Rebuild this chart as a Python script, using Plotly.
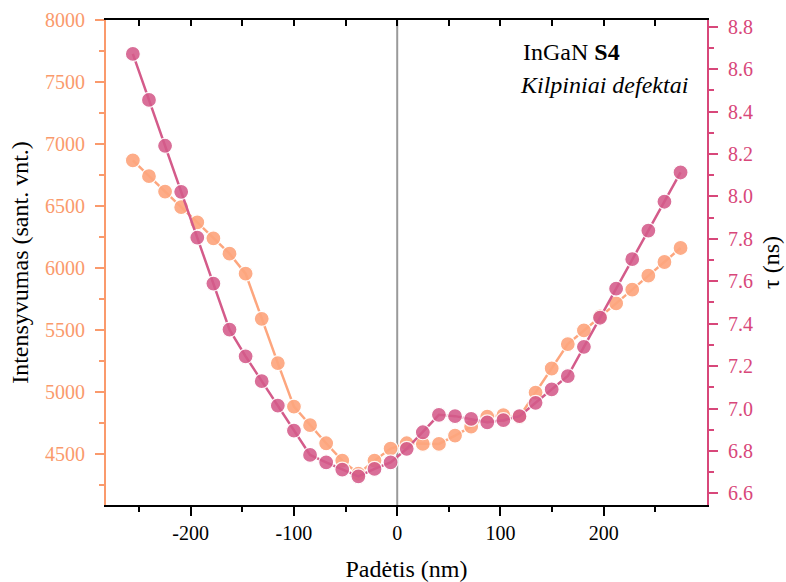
import plotly.graph_objects as go

# Position along the scan (nm)
position_nm = [-256.0, -240.4, -224.8, -209.2, -193.6, -178.0, -162.4, -146.8, -131.2,
               -115.6, -100.0, -84.4, -68.8, -53.2, -37.6, -22.0, -6.4, 9.2, 24.8,
               40.4, 56.0, 71.6, 87.2, 102.8, 118.4, 134.0, 149.6, 165.2, 180.8,
               196.4, 212.0, 227.6, 243.2, 258.8, 274.4]

# PL intensity (arb. units), left axis
intensity = [6867, 6740, 6616, 6490, 6368, 6239, 6115, 5954, 5590, 5233, 4882, 4732,
             4586, 4446, 4340, 4446, 4543, 4586, 4581, 4581, 4648, 4720, 4801, 4812,
             4800, 4995, 5189, 5386, 5496, 5609, 5714, 5825, 5938, 6048, 6161]

# Carrier lifetime tau (ns), right axis
tau_ns = [8.672, 8.455, 8.239, 8.022, 7.806, 7.589, 7.372, 7.246, 7.129, 7.014, 6.896,
          6.781, 6.746, 6.712, 6.680, 6.715, 6.746, 6.810, 6.888, 6.970, 6.964, 6.951,
          6.935, 6.945, 6.964, 7.027, 7.090, 7.153, 7.291, 7.428, 7.565, 7.704, 7.839,
          7.975, 8.113]

# Axis ticks
x_ticks = [-200, -100, 0, 100, 200]
x_ticklabels = ["-200", "-100", "0", "100", "200"]
x_minor = [-250, -150, -50, 50, 150, 250]
int_ticks = [4500, 5000, 5500, 6000, 6500, 7000, 7500, 8000]
int_minor = [4250, 4750, 5250, 5750, 6250, 6750, 7250, 7750]
tau_ticks = [6.6, 6.8, 7.0, 7.2, 7.4, 7.6, 7.8, 8.0, 8.2, 8.4, 8.6, 8.8]
tau_minor = [6.7, 6.9, 7.1, 7.3, 7.5, 7.7, 7.9, 8.1, 8.3, 8.5, 8.7]

ORANGE_AX = "#FA9A6C"
ORANGE_MK = "#FDA67E"
PINK_AX = "#D8477A"
PINK_MK = "#D45B8A"
FONT = "Liberation Serif"

fig = go.Figure()

fig.add_trace(go.Scatter(
    x=position_nm, y=intensity, mode="lines+markers", yaxis="y",
    line=dict(color=ORANGE_MK, width=2.5),
    marker=dict(size=15, color=ORANGE_MK, opacity=0.92,
                line=dict(color="white", width=1.2)),
    showlegend=False,
))

fig.add_trace(go.Scatter(
    x=position_nm, y=tau_ns, mode="lines+markers", yaxis="y2",
    line=dict(color=PINK_MK, width=2.5),
    marker=dict(size=15, color=PINK_MK, opacity=0.88,
                line=dict(color="white", width=1.2)),
    showlegend=False,
))

# empty trace so the top mirror axis is rendered
fig.add_trace(go.Scatter(x=[], y=[], xaxis="x2", yaxis="y", showlegend=False))

x_range = [-282, 300]

fig.update_layout(
    width=786, height=582,
    margin=dict(l=106, r=79, t=20, b=77),
    plot_bgcolor="white", paper_bgcolor="white",
    font=dict(family=FONT, size=20, color="black"),
    xaxis=dict(
        range=x_range, showgrid=False, zeroline=False, automargin=False,
        showline=True, linecolor="black", linewidth=1.5,
        ticks="outside", ticklen=9, tickwidth=1.5, tickcolor="black",
        tickvals=x_ticks, ticktext=x_ticklabels,
        minor=dict(tickvals=x_minor, ticks="outside",
                   ticklen=5, tickwidth=1.5, tickcolor="black"),
        tickfont=dict(family=FONT, size=20, color="black"),
        title=dict(text="Padėtis (nm)", font=dict(family=FONT, size=24), standoff=18),
    ),
    xaxis2=dict(
        range=x_range, overlaying="x", side="top", showgrid=False, zeroline=False,
        automargin=False, showline=True, linecolor="black", linewidth=1.5,
        ticks="inside", ticklen=6, tickwidth=1.5, tickcolor="black",
        tickvals=x_ticks + x_minor, showticklabels=False,
    ),
    yaxis=dict(
        range=[4088, 8000], showgrid=False, zeroline=False, automargin=False,
        showline=True, linecolor=ORANGE_AX, linewidth=2,
        ticks="outside", ticklen=9, tickwidth=2, tickcolor=ORANGE_AX,
        tickvals=int_ticks,
        minor=dict(tickvals=int_minor, ticks="outside", ticklen=5, tickwidth=2,
                   tickcolor=ORANGE_AX),
        tickfont=dict(family=FONT, size=20, color=ORANGE_AX),
        ticklabelstandoff=6,
        title=dict(text="Intensyvumas (sant. vnt.)", font=dict(family=FONT, size=24),
                   standoff=10),
    ),
    yaxis2=dict(
        range=[6.545, 8.832], overlaying="y", side="right", showgrid=False,
        zeroline=False, automargin=False, showline=True, linecolor=PINK_AX, linewidth=2,
        ticks="outside", ticklen=9, tickwidth=2, tickcolor=PINK_AX,
        tickvals=tau_ticks, tickformat=".1f",
        minor=dict(tickvals=tau_minor, ticks="outside", ticklen=5, tickwidth=2,
                   tickcolor=PINK_AX),
        tickfont=dict(family=FONT, size=20, color=PINK_AX),
        ticklabelstandoff=6,
        title=dict(text="τ (ns)", font=dict(family=FONT, size=24), standoff=10),
    ),
    shapes=[dict(type="line", xref="x", yref="paper", x0=0, x1=0, y0=0, y1=1,
                 line=dict(color="#9A9A9A", width=2), layer="below")],
    annotations=[
        dict(text="InGaN <b>S4</b>", xref="paper", yref="paper", x=0.69, y=0.935,
             xanchor="left", yanchor="middle", showarrow=False,
             font=dict(family=FONT, size=24, color="black")),
        dict(text="<i>Kilpiniai defektai</i>", xref="paper", yref="paper", x=0.686,
             y=0.865, xanchor="left", yanchor="middle", showarrow=False,
             font=dict(family=FONT, size=24, color="black")),
    ],
)

fig.write_html("out.html")
